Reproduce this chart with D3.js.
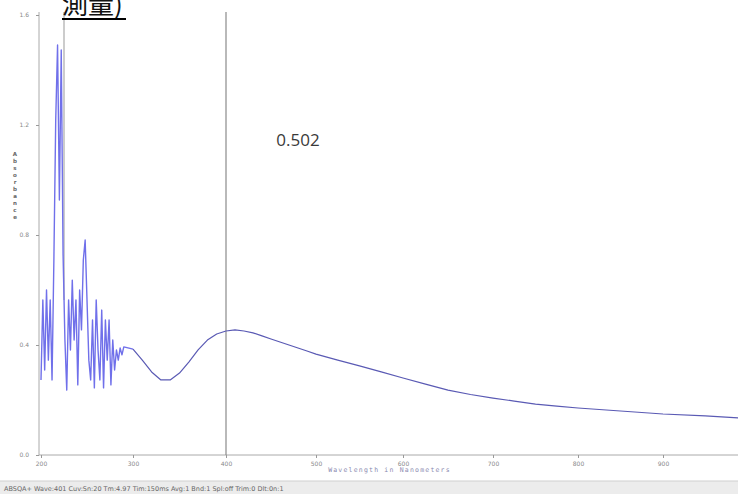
<!DOCTYPE html>
<html>
<head>
<meta charset="utf-8">
<script src="https://cdn.jsdelivr.net/npm/d3@7"></script>
<style>
	body { margin: 0; background: #fff; }
	svg { display: block; }
</style>
</head>
<body>
<div id="chart"></div>
<script>
window.document.title = 'Absorbance spectrum'

// wavelength (nm) / absorbance
const noisyNm = [200, 202, 204, 206, 208, 210, 212, 214, 216, 218, 220, 222, 224, 226, 228, 230, 232, 234, 236, 238, 240, 242, 244, 246, 248, 250, 252, 254, 256, 258, 260, 262, 264, 266, 268, 270, 272, 274, 276, 278, 280, 282, 284, 286, 288, 290]
const noisyAbs = [0.273, 0.564, 0.309, 0.6, 0.345, 0.564, 0.273, 0.709, 1.218, 1.491, 0.927, 1.473, 0.727, 0.418, 0.236, 0.564, 0.382, 0.636, 0.418, 0.564, 0.255, 0.6, 0.455, 0.709, 0.782, 0.564, 0.345, 0.273, 0.491, 0.244, 0.564, 0.382, 0.273, 0.527, 0.244, 0.491, 0.345, 0.491, 0.255, 0.418, 0.309, 0.382, 0.345, 0.389, 0.364, 0.393]
const smoothNm = [300, 310, 320, 330, 340, 350, 360, 370, 380, 390, 400, 410, 420, 430, 440, 450, 460, 470, 480, 490, 500, 525, 550, 575, 600, 625, 650, 675, 700, 725, 750, 775, 800, 850, 900, 950, 990]
const smoothAbs = [0.385, 0.345, 0.302, 0.273, 0.273, 0.298, 0.338, 0.382, 0.418, 0.44, 0.451, 0.455, 0.451, 0.444, 0.433, 0.422, 0.411, 0.4, 0.389, 0.378, 0.367, 0.345, 0.324, 0.302, 0.28, 0.258, 0.236, 0.22, 0.207, 0.196, 0.185, 0.178, 0.171, 0.16, 0.149, 0.142, 0.135]

const xTicks = [200, 300, 400, 500, 600, 700, 800, 900]
const yTicks = [0.0, 0.4, 0.8, 1.2, 1.6]
const cursorNm = 400
const cursorLabel = '0.502'
const markerNm = 225
const yTitle = 'Absorbance'
const xTitle = 'Wavelength in Nanometers'
const statusText = 'ABSQA+ Wave:401 Cuv:Sn:20 Tm:4.97 Tim:150ms Avg:1 Bnd:1 Spl:off Trim:0 Dlt:0n:1'

const fullWidth = 738
const fullHeight = 494

const noisy = noisyNm.map((nm, i) => ({nm, a: noisyAbs[i]}))
const smooth = smoothNm.map((nm, i) => ({nm, a: smoothAbs[i]}))

// the instrument axis is slightly uneven, so the scale follows its tick marks
const x = d3
	.scaleLinear()
	.domain([200, 300, 400, 500, 600, 700, 800, 900, 990])
	.range([41, 133, 226, 316, 403, 493, 578, 663, 739])
const y = d3.scaleLinear().domain([0, 1.6]).range([455, 15])

const svg = d3
	.select('#chart')
	.append('svg')
	.attr('width', fullWidth)
	.attr('height', fullHeight)

// status bar
svg.append('rect')
	.attr('x', 0).attr('y', 481)
	.attr('width', fullWidth).attr('height', 13)
	.attr('fill', '#ececec')
svg.append('line')
	.attr('x1', 0).attr('x2', fullWidth)
	.attr('y1', 481).attr('y2', 481)
	.attr('stroke', '#cfcfcf')
svg.append('text')
	.attr('x', 4).attr('y', 491)
	.attr('font-family', 'DejaVu Sans')
	.attr('font-size', 6.5)
	.attr('fill', '#666')
	.text(statusText)

// axes
const xAxis = d3.axisBottom(x).tickValues(xTicks).tickSize(3).tickFormat(d3.format('d'))
svg.append('g')
	.attr('transform', `translate(0, ${y(0)})`)
	.call(xAxis)
	.call((g) => g.select('.domain').attr('d', `M${x(200) - 2},0H${fullWidth}`).attr('stroke', '#aaa'))
	.call((g) => g.selectAll('.tick line').attr('stroke', '#999'))
	.call((g) => g.selectAll('.tick text')
		.attr('font-family', 'DejaVu Sans')
		.attr('font-size', 6)
		.attr('fill', '#888')
		.attr('dy', '0.9em'))

const yAxis = d3.axisLeft(y).tickValues(yTicks).tickSize(3).tickFormat(d3.format('.1f'))
svg.append('g')
	.attr('transform', `translate(${x(200) - 2}, 0)`)
	.call(yAxis)
	.call((g) => g.select('.domain').attr('d', `M0,${y(0)}V12`).attr('stroke', '#aaa'))
	.call((g) => g.selectAll('.tick line').attr('stroke', '#999'))
	.call((g) => g.selectAll('.tick text')
		.attr('x', -10)
		.attr('font-family', 'DejaVu Sans')
		.attr('font-size', 6)
		.attr('fill', '#888'))

svg.append('text')
	.attr('x', (x(500) + x(700)) / 2 - 15)
	.attr('y', 472)
	.attr('text-anchor', 'middle')
	.attr('font-family', 'DejaVu Sans Mono')
	.attr('font-size', 6.5)
	.attr('letter-spacing', 1.2)
	.attr('fill', '#8a8ab0')
	.text(xTitle)

svg.append('g')
	.selectAll('text')
	.data(yTitle.split(''))
	.join('text')
	.attr('x', 15)
	.attr('y', (d, i) => 156 + i * 7)
	.attr('text-anchor', 'middle')
	.attr('font-family', 'DejaVu Sans')
	.attr('font-weight', 'bold')
	.attr('font-size', 5.5)
	.attr('fill', '#666')
	.text((d) => d)

// marker lines
svg.append('line')
	.attr('x1', x(markerNm)).attr('x2', x(markerNm))
	.attr('y1', 12).attr('y2', 300)
	.attr('stroke', '#aaa')
	.attr('stroke-width', 1.2)
svg.append('line')
	.attr('x1', x(cursorNm)).attr('x2', x(cursorNm))
	.attr('y1', 12).attr('y2', y(0))
	.attr('stroke', '#8a8a8a')
	.attr('stroke-width', 1.2)

// spectrum: noisy UV part is lighter, the rest darker
const line = d3.line().x((d) => x(d.nm)).y((d) => y(d.a))
svg.append('path')
	.datum([...noisy, smooth[0]])
	.attr('fill', 'none')
	.attr('stroke', '#7070ea')
	.attr('stroke-width', 1.4)
	.attr('stroke-linejoin', 'round')
	.attr('d', line)
svg.append('path')
	.datum(smooth)
	.attr('fill', 'none')
	.attr('stroke', '#5a5ab4')
	.attr('stroke-width', 1.2)
	.attr('stroke-linejoin', 'round')
	.attr('d', line)

svg.append('text')
	.attr('x', 298).attr('y', 146)
	.attr('text-anchor', 'middle')
	.attr('font-family', 'Open Sans')
	.attr('font-size', 17)
	.attr('fill', '#3a3a3a')
	.text(cursorLabel)

// cropped heading at the top
svg.append('text')
	.attr('x', 62).attr('y', 14)
	.attr('font-family', 'Noto Sans CJK TC')
	.attr('font-size', 26)
	.attr('fill', '#111')
	.text('測量)')
svg.append('line')
	.attr('x1', 62).attr('x2', 126)
	.attr('y1', 19).attr('y2', 19)
	.attr('stroke', '#000')
	.attr('stroke-width', 2)
</script>
</body>
</html>
